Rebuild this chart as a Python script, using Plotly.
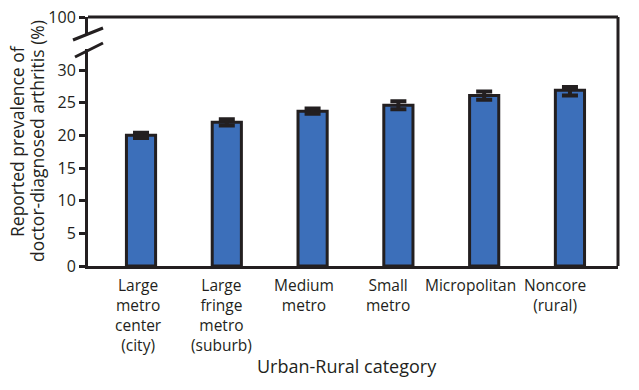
import plotly.graph_objects as go

categories = ["Large<br>metro<br>center<br>(city)", "Large<br>fringe<br>metro<br>(suburb)",
              "Medium<br>metro", "Small<br>metro", "Micropolitan", "Noncore<br>(rural)"]
prevalence = [20.0, 22.0, 23.7, 24.6, 26.1, 26.9]
ci_plus = [0.4, 0.45, 0.4, 0.6, 0.6, 0.5]
ci_minus = [0.4, 0.5, 0.4, 0.6, 0.65, 0.8]
y_ticks = [0, 5, 10, 15, 20, 25, 30]
top_tick = [100]
y_title_lines = ["Reported prevalence of", "doctor-diagnosed arthritis (%)"]
x_title = "Urban-Rural category"

# style: horizontal offset (px) of each category label from its bar centre
label_xshift_px = [-3, -5, -9, -10, -14, -15]

DARK = "#231f20"
BLUE = "#3c6fba"
FONT = "Open Sans"

fig = go.Figure()
fig.add_trace(go.Bar(
    x=categories, y=prevalence, width=0.34,
    marker=dict(color=BLUE, line=dict(color=DARK, width=3)),
    error_y=dict(type="data", array=ci_plus, arrayminus=ci_minus, symmetric=False,
                 color=DARK, thickness=4, width=8),
    showlegend=False,
))

W, H = 639, 390
L, R, T, B = 88, 21, 17, 124
pw, ph = W - L - R, H - T - B
pxu = 196 / 30.0  # px per unit on the main axis

def px2paper(px, py):
    return (px - L) / pw, (H - B - py) / ph

main_top_px = 49
upper_bottom_px = 34
main_dom_top = (H - B - main_top_px) / ph
upper_dom_bot = (H - B - upper_bottom_px) / ph

fig.update_layout(
    width=W, height=H,
    margin=dict(l=L, r=R, t=T, b=B),
    plot_bgcolor="white", paper_bgcolor="white",
    font=dict(family=FONT, color=DARK),
    xaxis=dict(
        range=[-0.618, 5.56], showline=True, linecolor=DARK, linewidth=3,
        ticks="", showticklabels=False, showgrid=False,
        zeroline=False, automargin=False,
    ),
    yaxis=dict(
        domain=[0, main_dom_top], range=[0, (H - B - main_top_px) / pxu],
        tickvals=y_ticks, showline=True, linecolor=DARK, linewidth=3,
        ticks="outside", ticklen=6, tickwidth=3, tickcolor=DARK,
        tickfont=dict(size=16, color=DARK), showgrid=False, zeroline=False,
        automargin=False,
    ),
    yaxis2=dict(
        domain=[upper_dom_bot, 1], range=[97, 100], tickvals=top_tick,
        showline=True, linecolor=DARK, linewidth=3,
        ticks="outside", ticklen=6, tickwidth=3, tickcolor=DARK,
        tickfont=dict(size=16, color=DARK), showgrid=False, zeroline=False,
        anchor="x", automargin=False,
    ),
)

# invisible trace to activate yaxis2
fig.add_trace(go.Scatter(x=[categories[0]], y=[None], yaxis="y2", showlegend=False,
                         hoverinfo="skip"))

shapes = []
shapes.append(dict(type="line", xref="paper", yref="paper", x0=0, x1=1, y0=1, y1=1,
                   line=dict(color=DARK, width=3)))
shapes.append(dict(type="line", xref="paper", yref="paper", x0=1, x1=1, y0=0, y1=1,
                   line=dict(color=DARK, width=3)))
for (a, b) in [((73, 40), (103, 28)), ((75, 57), (103, 43))]:
    x0, y0 = px2paper(*a)
    x1, y1 = px2paper(*b)
    shapes.append(dict(type="line", xref="paper", yref="paper", x0=x0, y0=y0, x1=x1, y1=y1,
                       line=dict(color=DARK, width=3)))
fig.update_layout(shapes=shapes)

# category labels
_, label_top = px2paper(0, 272)
for cat, xs in zip(categories, label_xshift_px):
    fig.add_annotation(text=cat, x=cat, xref="x", y=label_top, yref="paper",
                       xshift=xs, showarrow=False, font=dict(size=15.5, color=DARK),
                       xanchor="center", yanchor="top", align="center")

# y title lines
for line, px in zip(y_title_lines, [17, 37]):
    ax, ay = px2paper(px, 141)
    fig.add_annotation(text=line, xref="paper", yref="paper", x=ax, y=ay, textangle=-90,
                       showarrow=False, font=dict(size=17.5, color=DARK),
                       xanchor="center", yanchor="middle")

tx, ty = px2paper(347, 366)
fig.add_annotation(text=x_title, xref="paper", yref="paper", x=tx, y=ty,
                   showarrow=False, font=dict(size=18, color=DARK),
                   xanchor="center", yanchor="middle")

fig.write_html("out.html", config={"displayModeBar": False},
               post_script="document.body.style.margin='0';")
